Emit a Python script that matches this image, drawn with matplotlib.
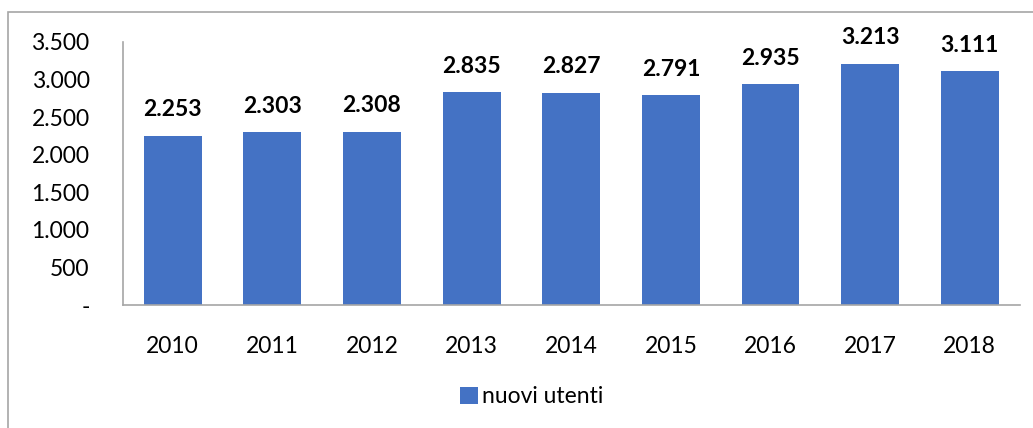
import matplotlib.pyplot as plt
from matplotlib.patches import Rectangle

# nuovi utenti per anno
anni = ["2010", "2011", "2012", "2013", "2014", "2015", "2016", "2017", "2018"]
nuovi_utenti = [2253, 2303, 2308, 2835, 2827, 2791, 2935, 3213, 3111]
y_ticks = [0, 500, 1000, 1500, 2000, 2500, 3000, 3500]

plt.rcParams['font.family'] = ['Lato', 'DejaVu Sans']


def fmt_it(v):
    # 3213 -> "3.213", 0 -> "-"
    if v == 0:
        return "-"
    return f"{v:,}".replace(",", ".")


fig = plt.figure(figsize=(10.33, 4.28), dpi=100)
ax = fig.add_axes([0.119, 0.287, 0.868, 0.615])

x = range(len(anni))
bars = ax.bar(x, nuovi_utenti, width=0.58, color="#4472C4", label="nuovi utenti")

for xi, v in zip(x, nuovi_utenti):
    ax.annotate(fmt_it(v), (xi, v), xytext=(0, 11), textcoords="offset points",
                ha="center", va="bottom", fontsize=16.5, fontweight="bold")

ax.set_xlim(-0.5, len(anni) - 0.5)
ax.set_ylim(0, 3500)
ax.set_yticks(y_ticks)
ax.set_yticklabels([fmt_it(t) for t in y_ticks], fontsize=16.5)
ax.set_xticks(list(x))
ax.set_xticklabels(anni, fontsize=16.5)
ax.tick_params(length=0)
ax.tick_params(axis="y", pad=24)
ax.tick_params(axis="x", pad=22)

for s in ["top", "right"]:
    ax.spines[s].set_visible(False)
for s in ["left", "bottom"]:
    ax.spines[s].set_color("#a6a6a6")
    ax.spines[s].set_linewidth(1.2)

leg = fig.legend(handles=[bars], labels=["nuovi utenti"], loc="center",
                 bbox_to_anchor=(0.515, 0.073), frameon=False, fontsize=16.5,
                 handlelength=0.75, handleheight=0.75, handletextpad=0.2)

# chart area border (cropped at right/bottom)
fig.patches.append(Rectangle((8 / 1033, -0.1), 1.2, 1 - 12 / 428 + 0.1,
                             transform=fig.transFigure, fill=False,
                             edgecolor="#a6a6a6", linewidth=1.2))

fig.savefig("out.png", dpi=100)
